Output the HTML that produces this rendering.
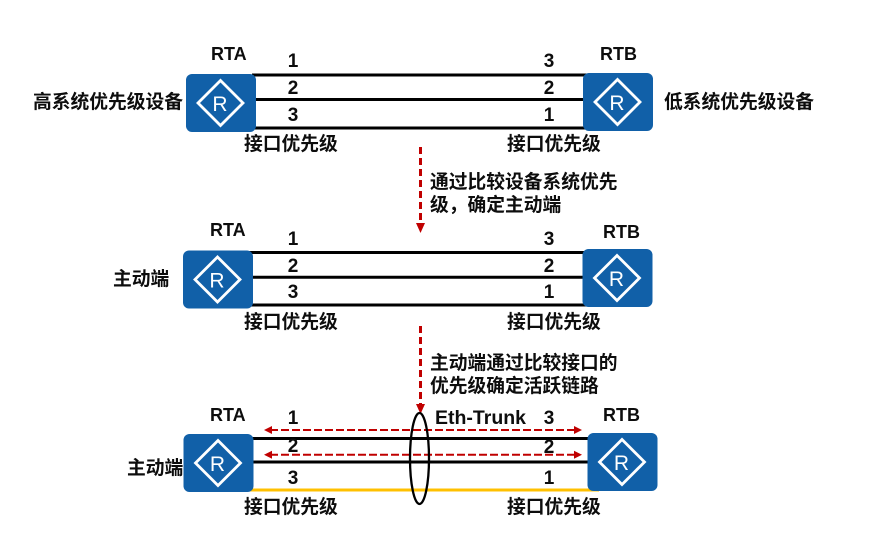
<!DOCTYPE html>
<html lang="zh">
<head>
<meta charset="utf-8">
<title>Eth-Trunk</title>
<style>
html,body{margin:0;padding:0;background:#fff;width:882px;height:545px;overflow:hidden}
svg{display:block}
text{font-family:"Liberation Sans","Noto Sans CJK SC",sans-serif;font-weight:700;fill:#0d0d0d}
.c{font-size:18.75px;font-family:"Noto Sans CJK SC","Liberation Sans",sans-serif}
.n{font-size:19px;text-anchor:middle}
.l{stroke:#000;stroke-width:3;fill:none}
.d{stroke:#c00000;fill:none}
</style>
</head>
<body>
<svg width="882" height="545" viewBox="0 0 882 545" xmlns="http://www.w3.org/2000/svg">
<defs>
<g id="r">
<rect x="0" y="0" width="70" height="58" rx="6" fill="#1160a8"/>
<polygon points="34.500,6.500 57,29 34.500,51.500 12,29" fill="none" stroke="#fff" stroke-width="2.800"/>
<text x="34" y="37" text-anchor="middle" style="font-size:21px;font-weight:400;fill:#fff">R</text>
</g>
</defs>

<!-- Row 1 -->
<path class="l" d="M252 75H590M252 99.500H590M252 128H590"/>
<use href="#r" x="186" y="74"/>
<use href="#r" x="583" y="73"/>
<text x="211" y="60" style="font-size:18px">RTA</text>
<text x="600" y="60" style="font-size:18px">RTB</text>
<text class="n" x="293" y="67">1</text>
<text class="n" x="293" y="94">2</text>
<text class="n" x="293" y="121">3</text>
<text class="n" x="549" y="67">3</text>
<text class="n" x="549" y="94">2</text>
<text class="n" x="549" y="121">1</text>
<text class="c" x="33" y="108">高系统优先级设备</text>
<text class="c" x="664" y="108">低系统优先级设备</text>
<text class="c" x="244" y="150">接口优先级</text>
<text class="c" x="507" y="150">接口优先级</text>

<!-- Arrow 1 -->
<path class="d" stroke-width="3" stroke-dasharray="7 4" d="M420.500 147V224"/>
<polygon points="416,223 425,223 420.500,233" fill="#c00000"/>
<text class="c" x="430" y="188">通过比较设备系统优先</text>
<text class="c" x="430" y="211">级，确定主动端</text>

<!-- Row 2 -->
<path class="l" d="M248 252.500H590M248 277.300H590M248 305H590"/>
<use href="#r" x="183" y="250.500"/>
<use href="#r" x="582.500" y="249"/>
<text x="210" y="236" style="font-size:18px">RTA</text>
<text x="603" y="238" style="font-size:18px">RTB</text>
<text class="n" x="293" y="245">1</text>
<text class="n" x="293" y="272">2</text>
<text class="n" x="293" y="298">3</text>
<text class="n" x="549" y="245">3</text>
<text class="n" x="549" y="272">2</text>
<text class="n" x="549" y="298">1</text>
<text class="c" x="113" y="285">主动端</text>
<text class="c" x="244" y="328">接口优先级</text>
<text class="c" x="507" y="328">接口优先级</text>

<!-- Arrow 2 -->
<path class="d" stroke-width="3" stroke-dasharray="7 4" d="M420.500 326V404"/>
<polygon points="416,404 425,404 420.500,414" fill="#c00000"/>
<text class="c" x="430" y="369">主动端通过比较接口的</text>
<text class="c" x="430" y="392">优先级确定活跃链路</text>

<!-- Row 3 -->
<path class="l" d="M250 438.500H592M250 462H592"/>
<path d="M237 490H599" stroke="#ffc000" stroke-width="3" fill="none"/>
<use href="#r" x="183.500" y="434"/>
<use href="#r" x="587.500" y="433"/>
<text x="210" y="421" style="font-size:18px">RTA</text>
<text x="603" y="421" style="font-size:18px">RTB</text>
<text class="n" x="293" y="424">1</text>
<text class="n" x="293" y="452">2</text>
<text class="n" x="293" y="484">3</text>
<text class="n" x="549" y="424">3</text>
<text class="n" x="549" y="453">2</text>
<text class="n" x="549" y="484">1</text>
<text class="c" x="127" y="474">主动端</text>
<text class="c" x="244" y="513">接口优先级</text>
<text class="c" x="507" y="513">接口优先级</text>
<text x="435" y="424" textLength="91" lengthAdjust="spacingAndGlyphs" style="font-size:19px">Eth-Trunk</text>

<!-- Dashed double arrows -->
<path class="d" stroke-width="2" stroke-dasharray="8 3" d="M270 430H576"/>
<polygon points="264,430 272,426 272,434" fill="#c00000"/>
<polygon points="582,430 574,426 574,434" fill="#c00000"/>
<path class="d" stroke-width="2" stroke-dasharray="8 3" d="M270 454.800H576"/>
<polygon points="264,454.800 272,450.800 272,458.800" fill="#c00000"/>
<polygon points="582,454.800 574,450.800 574,458.800" fill="#c00000"/>

<!-- Ellipse -->
<ellipse cx="419.500" cy="458.500" rx="9.500" ry="45.500" fill="none" stroke="#000" stroke-width="2.300"/>
</svg>
</body>
</html>
